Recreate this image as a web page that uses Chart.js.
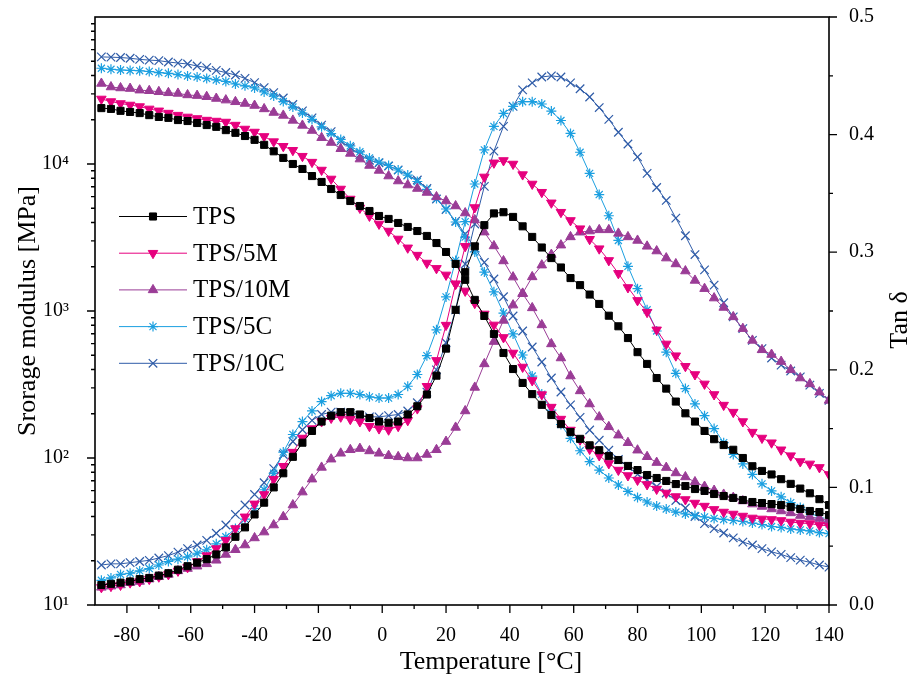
<!DOCTYPE html>
<html lang="en">
<head>
<meta charset="UTF-8">
<title>TPS storage modulus and tan delta</title>
<script src="https://cdn.jsdelivr.net/npm/chart.js@4.4.1/dist/chart.umd.min.js"></script>
<style>
  body { margin: 0; background: #fff; }
  #wrap { width: 914px; height: 676px; }
</style>
</head>
<body>
<div id="wrap"><canvas id="dma" width="914" height="676"></canvas></div>
<script>
// temperature of each measured point, degC
const temps = [-88, -85, -82, -79, -76, -73, -70, -67, -64, -61,
  -58, -55, -52, -49, -46, -43, -40, -37, -34, -31,
  -28, -25, -22, -19, -16, -13, -10, -7, -4, -1,
  2, 5, 8, 11, 14, 17, 20, 23, 26, 29,
  32, 35, 38, 41, 44, 47, 50, 53, 56, 59,
  62, 65, 68, 71, 74, 77, 80, 83, 86, 89,
  92, 95, 98, 101, 104, 107, 110, 113, 116, 119,
  122, 125, 128, 131, 134, 137, 140];

// storage modulus, MPa (left log axis)
const storageTPS = [24000, 23700, 23000, 22600, 22200, 21500, 20900, 20600, 19900, 19600,
  19000, 18400, 17900, 17000, 16300, 15500, 14600, 13500, 12200, 11000,
  10000, 9250, 8280, 7550, 6760, 6150, 5600, 5180, 4790, 4430,
  4230, 3970, 3730, 3500, 3240, 2900, 2520, 2090, 1630, 1190,
  925, 698, 518, 403, 324, 272, 230, 196, 170, 150,
  135, 122, 113, 103, 96.9, 88.3, 82.8, 76.6, 73.1, 69.8,
  66.5, 64.5, 61.5, 59.7, 56.9, 55.1, 53.5, 51.8, 50.2, 49.4,
  48.6, 47.9, 46.4, 45.0, 43.6, 42.9, 40.9];
const storage5M = [27700, 26600, 25800, 25200, 24600, 23700, 23000, 22200, 21500, 20900,
  20400, 19900, 19600, 19300, 18400, 17300, 16500, 15400, 14200, 13200,
  12400, 11300, 10300, 9100, 7910, 6760, 5780, 5020, 4430, 3910,
  3500, 3090, 2690, 2400, 2120, 1950, 1760, 1530, 1370, 1130,
  955, 804, 661, 518, 416, 337, 270, 222, 184, 155,
  133, 115, 104, 91.8, 82.8, 76.0, 70.8, 66.1, 61.5, 57.8,
  54.7, 52.2, 49.4, 47.1, 44.7, 42.9, 41.6, 40.3, 39.1, 38.5,
  38.2, 37.6, 36.7, 36.1, 35.8, 35.0, 34.5];
const storage10M = [35300, 33400, 32900, 32600, 31800, 31500, 31000, 30500, 30200, 29500,
  29200, 28700, 27900, 27200, 26500, 25800, 25000, 23700, 22400, 21400,
  19800, 18300, 16900, 15100, 14000, 12700, 11800, 10800, 9770, 9040,
  8280, 7660, 7190, 6810, 6400, 5970, 5600, 5180, 4640, 4160,
  3440, 2770, 2190, 1700, 1310, 1050, 804, 597, 479, 361,
  286, 233, 190, 163, 143, 127, 113, 102, 93.1, 86.1,
  79.1, 74.3, 68.7, 64.0, 60.1, 56.5, 53.8, 51.0, 48.6, 46.8,
  45.0, 43.6, 42.3, 40.6, 39.7, 38.8, 37.8];
const storage5C = [44800, 44100, 43600, 43300, 43100, 42600, 41900, 41400, 40600, 39700,
  39100, 38200, 37300, 36400, 35000, 34000, 32900, 30900, 29000, 26600,
  24400, 22200, 20100, 17900, 16100, 14700, 13300, 12100, 11000, 10300,
  9770, 9100, 8410, 7600, 6710, 5820, 4940, 4030, 3180, 2520,
  1840, 1350, 968, 698, 502, 361, 272, 212, 169, 136,
  112, 94.6, 82.8, 73.1, 65.5, 59.2, 53.8, 50.2, 47.1, 45.0,
  42.9, 41.6, 40.6, 39.7, 38.8, 38.2, 37.6, 37.0, 36.1, 35.3,
  34.2, 33.7, 32.9, 32.4, 31.9, 31.1, 30.6];
const storage10C = [53500, 53300, 53000, 52400, 51500, 50900, 50500, 49400, 48600, 47900,
  46400, 45300, 43300, 41900, 40300, 38200, 35800, 33100, 30600, 28100,
  25400, 23000, 20600, 18400, 16600, 14300, 12900, 11600, 10600, 10200,
  9690, 9100, 8410, 7780, 6810, 5780, 4900, 4090, 3340, 2690,
  2140, 1650, 1250, 925, 731, 569, 450, 350, 281, 230,
  189, 155, 132, 113, 97.7, 87.5, 77.3, 70.8, 64.0, 57.8,
  51.4, 45.7, 40.0, 35.8, 33.1, 30.9, 28.6, 26.8, 25.6, 24.2,
  23.0, 22.1, 21.0, 20.2, 19.5, 18.7, 18.1];

// tan delta (right axis)
const tanTPS = [0.017, 0.018, 0.019, 0.020, 0.022, 0.023, 0.025, 0.027, 0.030, 0.033,
  0.036, 0.039, 0.043, 0.049, 0.058, 0.066, 0.077, 0.087, 0.100, 0.112,
  0.126, 0.138, 0.148, 0.156, 0.161, 0.164, 0.164, 0.162, 0.159, 0.156,
  0.155, 0.156, 0.162, 0.169, 0.179, 0.195, 0.218, 0.251, 0.283, 0.305,
  0.323, 0.333, 0.334, 0.330, 0.322, 0.313, 0.304, 0.295, 0.287, 0.278,
  0.272, 0.264, 0.256, 0.246, 0.237, 0.227, 0.215, 0.205, 0.193, 0.184,
  0.173, 0.163, 0.156, 0.148, 0.141, 0.136, 0.132, 0.125, 0.118, 0.114,
  0.111, 0.107, 0.103, 0.099, 0.095, 0.090, 0.085];
const tan5M = [0.015, 0.016, 0.017, 0.019, 0.020, 0.022, 0.024, 0.026, 0.029, 0.032,
  0.037, 0.042, 0.048, 0.055, 0.065, 0.075, 0.086, 0.094, 0.107, 0.118,
  0.130, 0.142, 0.150, 0.156, 0.159, 0.160, 0.158, 0.156, 0.152, 0.150,
  0.149, 0.152, 0.157, 0.167, 0.186, 0.208, 0.238, 0.273, 0.305, 0.338,
  0.364, 0.376, 0.378, 0.375, 0.366, 0.358, 0.351, 0.342, 0.334, 0.327,
  0.320, 0.311, 0.303, 0.293, 0.282, 0.270, 0.259, 0.249, 0.234, 0.222,
  0.212, 0.203, 0.196, 0.188, 0.179, 0.170, 0.164, 0.156, 0.147, 0.142,
  0.138, 0.132, 0.127, 0.122, 0.120, 0.117, 0.111];
const tan10M = [0.015, 0.016, 0.017, 0.019, 0.020, 0.022, 0.024, 0.026, 0.029, 0.031,
  0.033, 0.035, 0.038, 0.043, 0.047, 0.051, 0.057, 0.062, 0.068, 0.075,
  0.085, 0.096, 0.107, 0.117, 0.124, 0.129, 0.132, 0.133, 0.131, 0.129,
  0.127, 0.126, 0.125, 0.125, 0.128, 0.132, 0.139, 0.151, 0.165, 0.185,
  0.205, 0.224, 0.242, 0.255, 0.265, 0.279, 0.289, 0.298, 0.306, 0.313,
  0.317, 0.318, 0.319, 0.319, 0.316, 0.313, 0.310, 0.305, 0.301, 0.295,
  0.290, 0.284, 0.276, 0.269, 0.261, 0.253, 0.245, 0.235, 0.225, 0.217,
  0.213, 0.207, 0.200, 0.193, 0.188, 0.181, 0.174];
const tan5C = [0.021, 0.023, 0.026, 0.027, 0.029, 0.031, 0.034, 0.037, 0.039, 0.041,
  0.044, 0.047, 0.052, 0.058, 0.065, 0.073, 0.082, 0.098, 0.112, 0.130,
  0.145, 0.156, 0.165, 0.173, 0.178, 0.180, 0.180, 0.179, 0.177, 0.176,
  0.176, 0.179, 0.186, 0.196, 0.212, 0.234, 0.262, 0.293, 0.326, 0.358,
  0.387, 0.407, 0.418, 0.424, 0.428, 0.428, 0.426, 0.420, 0.412, 0.401,
  0.385, 0.367, 0.349, 0.331, 0.310, 0.288, 0.269, 0.251, 0.233, 0.215,
  0.197, 0.184, 0.171, 0.161, 0.150, 0.138, 0.128, 0.120, 0.111, 0.103,
  0.097, 0.092, 0.087, 0.083, 0.079, 0.074, 0.069];
const tan10C = [0.034, 0.035, 0.035, 0.036, 0.037, 0.038, 0.040, 0.042, 0.045, 0.048,
  0.051, 0.055, 0.061, 0.068, 0.077, 0.085, 0.094, 0.104, 0.116, 0.128,
  0.139, 0.149, 0.157, 0.162, 0.164, 0.164, 0.163, 0.161, 0.160, 0.160,
  0.161, 0.162, 0.165, 0.172, 0.181, 0.200, 0.223, 0.251, 0.290, 0.324,
  0.356, 0.386, 0.407, 0.424, 0.438, 0.444, 0.449, 0.450, 0.449, 0.444,
  0.439, 0.432, 0.423, 0.413, 0.402, 0.392, 0.381, 0.367, 0.355, 0.344,
  0.329, 0.314, 0.298, 0.285, 0.272, 0.257, 0.245, 0.235, 0.225, 0.218,
  0.210, 0.204, 0.199, 0.194, 0.187, 0.180, 0.174];

const names = ['TPS', 'TPS/5M', 'TPS/10M', 'TPS/5C', 'TPS/10C'];
const xTicks = [-80, -60, -40, -20, 0, 20, 40, 60, 80, 100, 120, 140];
const modTicks = [10, 100, 1000, 10000];
const tanTicks = [0, 0.1, 0.2, 0.3, 0.4, 0.5];

const serif = '"Liberation Serif", "Times New Roman", serif';
const sup = { 1: '\u00b9', 2: '\u00b2', 3: '\u00b3', 4: '\u2074', 5: '\u2075' };

const looks = [
  { color: '#000000', pointStyle: 'rect', radius: 5, rotation: 0, bw: 1 },
  { color: '#e6007e', pointStyle: 'triangle', radius: 5.5, rotation: 180, bw: 1 },
  { color: '#9a3c96', pointStyle: 'triangle', radius: 5.5, rotation: 0, bw: 1 },
  { color: '#1b9fe0', pointStyle: 'star', radius: 5, rotation: 0, bw: 1.2 },
  { color: '#2f5ca8', pointStyle: 'crossRot', radius: 6, rotation: 0, bw: 1.2 }
];

const storage = [storageTPS, storage5M, storage10M, storage5C, storage10C];
const tan = [tanTPS, tan5M, tan10M, tan5C, tan10C];

function pts(vals) {
  return temps.map((t, i) => ({ x: t, y: vals[i] }));
}

const datasets = [];
names.forEach((n, i) => {
  const s = looks[i];
  const base = {
    borderColor: s.color, backgroundColor: s.color, borderWidth: 1,
    pointStyle: s.pointStyle, pointRadius: s.radius, pointRotation: s.rotation,
    pointBackgroundColor: s.color, pointBorderColor: s.color, pointBorderWidth: s.bw,
    tension: 0
  };
  datasets.push(Object.assign({}, base, { label: n + " E'", data: pts(storage[i]), yAxisID: 'yE' }));
  datasets.push(Object.assign({}, base, { label: n + ' tan', data: pts(tan[i]), yAxisID: 'yT' }));
});

// frame, tick marks, axis titles and legend
const framePlugin = {
  id: 'frame',
  afterDraw(chart) {
    const { ctx, chartArea: a, scales } = chart;
    ctx.save();
    ctx.strokeStyle = '#000';
    ctx.lineWidth = 1.6;
    ctx.strokeRect(a.left, a.top, a.right - a.left, a.bottom - a.top);

    ctx.lineWidth = 1.3;
    ctx.beginPath();
    for (let v = -80; v <= 140; v += 10) {
      const px = scales.x.getPixelForValue(v);
      const len = v % 20 === 0 ? 8 : 4;
      ctx.moveTo(px, a.bottom);
      ctx.lineTo(px, a.bottom + len);
    }
    for (let e = 1; e <= 4; e++) {
      for (let m = 1; m <= 9; m++) {
        const py = scales.yE.getPixelForValue(m * Math.pow(10, e));
        const len = m === 1 ? 8 : 4;
        ctx.moveTo(a.left, py);
        ctx.lineTo(a.left - len, py);
      }
    }
    for (let k = 0; k <= 10; k++) {
      const py = scales.yT.getPixelForValue(k * 0.05);
      const len = k % 2 === 0 ? 8 : 4;
      ctx.moveTo(a.right, py);
      ctx.lineTo(a.right + len, py);
    }
    ctx.stroke();

    // axis titles
    ctx.fillStyle = '#000';
    ctx.font = '26px ' + serif;
    ctx.textAlign = 'center';
    ctx.textBaseline = 'middle';
    ctx.fillText('Temperature [\u00b0C]', 491, 662);
    ctx.save();
    ctx.translate(28, (a.top + a.bottom) / 2);
    ctx.rotate(-Math.PI / 2);
    ctx.fillText('Srorage modulus [MPa]', 0, 0);
    ctx.restore();
    ctx.save();
    ctx.translate(900, 320);
    ctx.rotate(-Math.PI / 2);
    ctx.fillText('Tan \u03b4', 0, 0);
    ctx.restore();

    // legend
    ctx.font = '25px ' + serif;
    ctx.textAlign = 'left';
    names.forEach((n, i) => {
      const s = looks[i];
      const y = 216.5 + i * 36.7;
      ctx.strokeStyle = s.color;
      ctx.fillStyle = s.color;
      ctx.lineWidth = 1;
      ctx.beginPath();
      ctx.moveTo(119, y);
      ctx.lineTo(187, y);
      ctx.stroke();
      ctx.lineWidth = s.bw;
      if (Chart.helpers && Chart.helpers.drawPoint) {
        Chart.helpers.drawPoint(ctx, { pointStyle: s.pointStyle, rotation: s.rotation, radius: s.radius, borderWidth: s.bw }, 153, y);
      } else {
        ctx.fillRect(149, y - 4, 8, 8);
      }
      ctx.fillStyle = '#000';
      ctx.fillText(n, 193, y + 1);
    });
    ctx.restore();
  }
};

Chart.defaults.font.family = serif;
Chart.defaults.color = '#000';

new Chart(document.getElementById('dma'), {
  type: 'line',
  data: { datasets: datasets },
  options: {
    responsive: false,
    animation: false,
    layout: { padding: { top: 17, left: 0, right: 0, bottom: 0 } },
    plugins: { legend: { display: false }, tooltip: { enabled: false } },
    scales: {
      x: {
        type: 'linear', position: 'bottom', min: -90, max: 140,
        afterBuildTicks: s => { s.ticks = xTicks.map(v => ({ value: v })); },
        afterFit: s => { s.height = 71; s.paddingLeft = 0; s.paddingRight = 0; },
        grid: { display: false, drawTicks: false },
        border: { display: false },
        ticks: { font: { size: 20 }, padding: 19, maxRotation: 0, autoSkip: false }
      },
      yE: {
        type: 'logarithmic', position: 'left', min: 10, max: 100000,
        afterBuildTicks: s => { s.ticks = modTicks.map(v => ({ value: v })); },
        afterFit: s => { s.width = 95; s.paddingTop = 0; s.paddingBottom = 0; },
        grid: { display: false, drawTicks: false },
        border: { display: false },
        ticks: {
          font: { size: 20 }, padding: 26, autoSkip: false,
          callback: v => '10' + sup[Math.round(Math.log10(v))]
        }
      },
      yT: {
        type: 'linear', position: 'right', min: 0, max: 0.5,
        afterBuildTicks: s => { s.ticks = tanTicks.map(v => ({ value: v })); },
        afterFit: s => { s.width = 85; s.paddingTop = 0; s.paddingBottom = 0; },
        grid: { display: false, drawTicks: false },
        border: { display: false },
        ticks: { font: { size: 20 }, padding: 20, autoSkip: false, callback: v => v.toFixed(1) }
      }
    }
  },
  plugins: [framePlugin]
});
</script>
</body>
</html>
